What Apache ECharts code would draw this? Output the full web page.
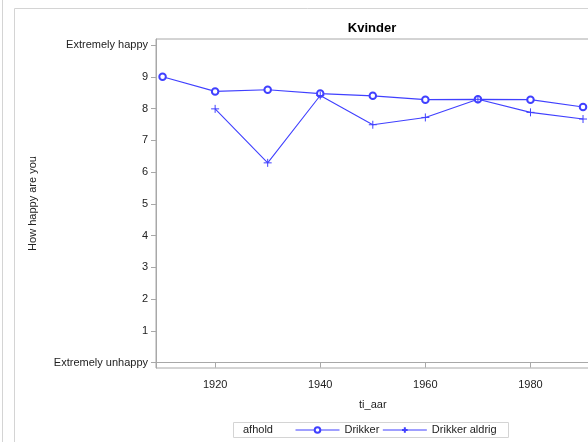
<!DOCTYPE html>
<html><head><meta charset="utf-8">
<script src="https://cdn.jsdelivr.net/npm/echarts@6/dist/echarts.min.js"></script>
<style>html,body{margin:0;padding:0;overflow:hidden;background:#fff}#c{width:600px;height:442px}</style>
</head><body><div id="c"></div>
<script>
const years = [1910,1920,1930,1940,1950,1960,1970,1980,1990];
const drikker = [9.0,8.54,8.59,8.47,8.40,8.28,8.29,8.28,8.05];
const drikkerAldrig = [null,7.99,6.29,8.41,7.49,7.72,8.29,7.88,7.67];
const yTicks = [0,1,2,3,4,5,6,7,8,9,10];
const yTickText = {0:'Extremely unhappy',10:'Extremely happy'};
const xTicks = [1920,1940,1960,1980];
const seriesNames = ['Drikker','Drikker aldrig'];

const blue = '#4040ff';
const font = 'Liberation Sans, Arial, sans-serif';
const chart = echarts.init(document.getElementById('c'), null, {renderer:'canvas'});
const plus = 'path://M0,5L10,5M5,0L5,10';
chart.setOption({
  animation:false,
  title:{text:'Kvinder',left:367,top:17,textAlign:'center',textStyle:{fontFamily:font,fontSize:13,fontWeight:'bold',color:'#000'}},
  graphic:[
    {type:'line',shape:{x1:2.5,y1:0,x2:2.5,y2:442},style:{stroke:'#d4d4d4',lineWidth:1}},
    {type:'line',shape:{x1:14.5,y1:8.5,x2:14.5,y2:442},style:{stroke:'#d4d4d4',lineWidth:1}},
    {type:'line',shape:{x1:14.5,y1:8.5,x2:600,y2:8.5},style:{stroke:'#d4d4d4',lineWidth:1}},
    {type:'rect',shape:{x:233.5,y:422.5,width:275,height:15},style:{fill:'none',stroke:'#d4d4d4',lineWidth:1}},
    {type:'text',x:243,y:430,style:{text:'afhold',fontFamily:font,fontSize:11,fill:'#222',verticalAlign:'middle'}}
  ],
  grid:{left:156,top:39,width:433.6,height:329,show:true,borderColor:'#a8a8a8',borderWidth:1},
  legend:{left:290,top:419.5,itemWidth:44,itemHeight:7,itemGap:3,
    lineStyle:{width:1,color:blue},
    textStyle:{fontFamily:font,fontSize:11,color:'#222'},
    data:seriesNames},
  xAxis:{type:'value',min:1908.75,max:1991.25,
    name:'ti_aar',nameLocation:'middle',nameGap:31,nameTextStyle:{fontFamily:font,fontSize:11,color:'#222'},
    axisLine:{lineStyle:{color:'#a8a8a8'}},
    axisTick:{show:true,length:5,lineStyle:{color:'#a8a8a8'},customValues:xTicks},
    axisLabel:{fontFamily:font,fontSize:11,color:'#222',margin:11,customValues:xTicks,formatter:v=>String(v)},
    splitLine:{show:false}},
  yAxis:{type:'value',min:-0.17,max:10.19,
    name:'How happy are you',nameLocation:'middle',nameGap:118,nameRotate:90,nameTextStyle:{fontFamily:font,fontSize:11,color:'#222'},
    axisLine:{show:true,lineStyle:{color:'#a8a8a8'}},
    axisTick:{show:true,length:5,lineStyle:{color:'#a8a8a8'},customValues:yTicks},
    axisLabel:{fontFamily:font,fontSize:11,color:'#222',margin:8,customValues:yTicks,
      formatter:v=>yTickText[v]!==undefined?yTickText[v]:String(v)},
    splitLine:{show:false}},
  series:[
    {name:seriesNames[0],type:'line',data:years.map((y,i)=>[y,drikker[i]]),
      symbol:'emptyCircle',symbolSize:6.5,showAllSymbol:true,
      lineStyle:{color:blue,width:1.1},itemStyle:{color:blue,borderColor:blue,borderWidth:0.9}},
    {name:seriesNames[1],type:'line',data:years.map((y,i)=>[y,drikkerAldrig[i]]).filter(d=>d[1]!==null),
      symbol:plus,symbolSize:8,showAllSymbol:true,
      lineStyle:{color:blue,width:1.1},itemStyle:{color:blue,borderColor:blue,borderWidth:1}}
  ]
});
</script></body></html>
